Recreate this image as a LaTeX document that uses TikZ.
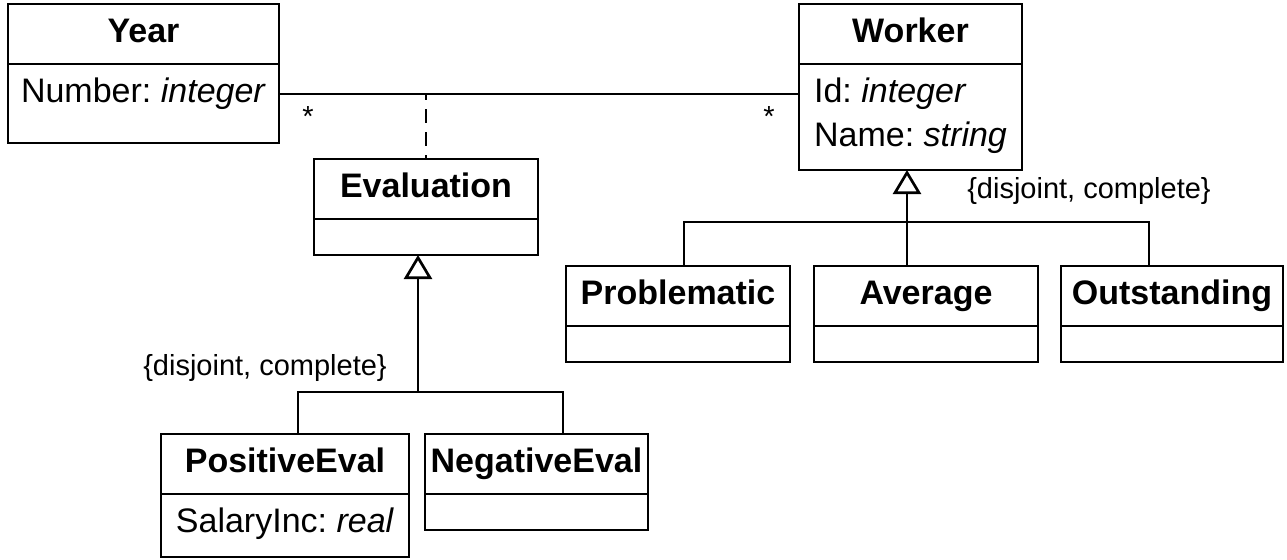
\documentclass[tikz,border=0pt]{standalone}
\usepackage{fontspec}
\setmainfont{Liberation Sans}
\usetikzlibrary{arrows.meta}
\frenchspacing

\tikzset{
  uml/.style={draw, line width=1.35pt, anchor=north west, inner sep=0pt, outer sep=0pt},
  ctitle/.style={uml, minimum width=#1, text height=19pt, text depth=11pt,
    font=\bfseries\fontsize{17}{20}\selectfont},
  cbody/.style 2 args={uml, minimum width=#1, align=left, text height=19pt, text depth=#2,
    font=\fontsize{17}{22}\selectfont},
  cempty/.style={uml, minimum width=#1, minimum height=18pt},
  note/.style={font=\fontsize{14.5}{17}\selectfont, inner sep=0pt},
  link/.style={line width=1.35pt},
  gen/.style={link, -{Triangle[open, length=12pt, width=14pt]}}
}

\begin{document}
\begin{tikzpicture}[x=0.5pt, y=-0.5pt]
  % \draw[style = help lines] (0,0) grid[step=100] (1287,559);
  \useasboundingbox (0,0) rectangle (1287,559);

  \node[ctitle=135.5pt] (year) at (8,4) {Year};
  \node[cbody={135.5pt}{20.5pt}] (yearattr) at (year.south west) {Number: \textit{integer}};

  \node[ctitle=111.5pt] (worker) at (799,4) {Worker};
  \node[cbody={111.5pt}{12pt}, text height=41pt] (workerattr) at (worker.south west) {Id: \textit{integer}\\Name: \textit{string}};

  \node[ctitle=112pt] (evaluation) at (314,159) {Evaluation};
  \node[cempty=112pt] (evalattr) at (evaluation.south west) {};

  \node[ctitle=112pt] (problematic) at (566,266) {Problematic};
  \node[cempty=112pt] (problattr) at (problematic.south west) {};
  \node[ctitle=112pt] (average) at (814,266) {Average};
  \node[cempty=112pt] (averageattr) at (average.south west) {};
  \node[ctitle=111pt] (outstanding) at (1061,266) {Outstanding};
  \node[cempty=111pt] (outstattr) at (outstanding.south west) {};

  \node[ctitle=124pt] (positive) at (161,434) {PositiveEval};
  \node[cbody={124pt}{12.5pt}] (positiveattr) at (positive.south west) {SalaryInc: \textit{real}};
  \node[ctitle=111.5pt] (negative) at (425,434) {NegativeEval};
  \node[cempty=111.5pt] (negativeattr) at (negative.south west) {};

  % association with its class
  \coordinate (assoc) at (426,94);
  \draw[link] (yearattr.east |- assoc) -- (workerattr.west |- assoc);
  \draw[link, dash pattern=on 7pt off 4.5pt, dash phase=4pt] (evaluation.north |- assoc) -- (evaluation.north);
  \node[note] (multyear) at (308,117) {*};
  \node[note] (multworker) at (769,117) {*};

  % generalizations
  \coordinate (evalbar) at (418,392);
  \draw[gen] (evalbar) -- (evalbar |- evalattr.south);
  \draw[link] ([xshift=6.5pt]positive.north) |- (evalbar) -| ([xshift=13.25pt]negative.north);
  \node[note] (evalset) at (265,368) {\{disjoint, complete\}};

  \coordinate (workbar) at (907,222);
  \draw[gen] ([xshift=-9.5pt]average.north) -- ([xshift=-9.5pt]average.north |- workerattr.south);
  \draw[link] ([xshift=3pt]problematic.north) |- (workbar) -| ([xshift=-11.5pt]outstanding.north);
  \node[note] (workset) at (1089,191) {\{disjoint, complete\}};
\end{tikzpicture}
\end{document}
